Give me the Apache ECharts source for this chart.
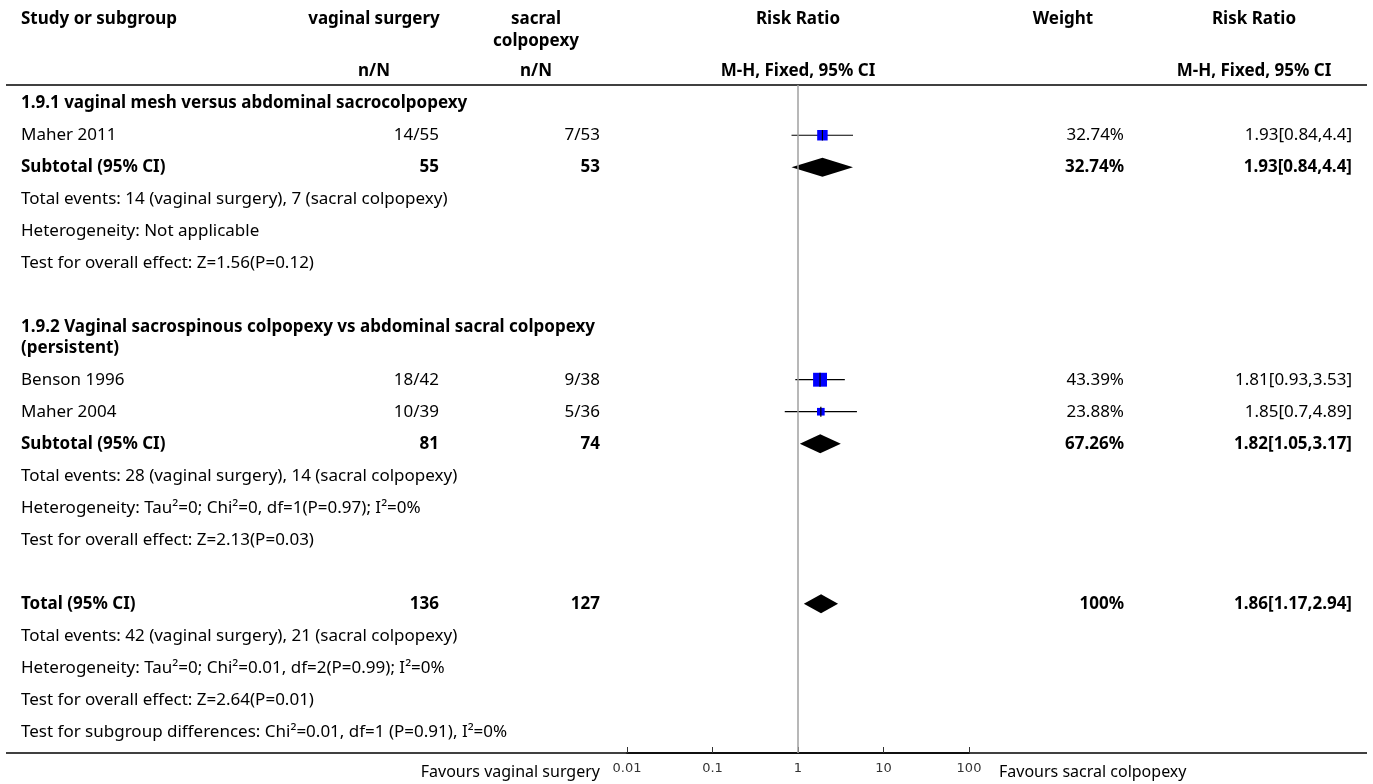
<!DOCTYPE html>
<html><head><meta charset="utf-8">
<script src="https://cdn.jsdelivr.net/npm/echarts@6/dist/echarts.min.js"></script>
<style>html,body{margin:0;padding:0;background:#fff}#c{width:1373px;height:784px}</style>
</head><body><div id="c"></div>
<script>
// ---------------- DATA ----------------
const subgroupTitles = [
  ['1.9.1 vaginal mesh versus abdominal sacrocolpopexy'],
  ['1.9.2 Vaginal sacrospinous colpopexy vs abdominal sacral colpopexy', '(persistent)']
];
const studyNames = ['Maher 2011', 'Benson 1996', 'Maher 2004'];
const studyGroup = [0, 1, 1];
const vagEvents = [14, 18, 10];
const vagTotals = [55, 42, 39];
const sacEvents = [7, 9, 5];
const sacTotals = [53, 38, 36];
const studyWeights = [32.74, 43.39, 23.88];
const studyRR = [1.93, 1.81, 1.85];
const studyLow = [0.84, 0.93, 0.7];
const studyHigh = [4.4, 3.53, 4.89];
const subtotalVagN = [55, 81];
const subtotalSacN = [53, 74];
const subtotalWeights = [32.74, 67.26];
const subtotalRR = [1.93, 1.82];
const subtotalLow = [0.84, 1.05];
const subtotalHigh = [4.4, 3.17];
const subgroupNotes = [
  ['Total events: 14 (vaginal surgery), 7 (sacral colpopexy)', 'Heterogeneity: Not applicable', 'Test for overall effect: Z=1.56(P=0.12)'],
  ['Total events: 28 (vaginal surgery), 14 (sacral colpopexy)', 'Heterogeneity: Tau\u00b2=0; Chi\u00b2=0, df=1(P=0.97); I\u00b2=0%', 'Test for overall effect: Z=2.13(P=0.03)']
];
const totalVagN = [136];
const totalSacN = [127];
const totalWeight = [100];
const totalRR = [1.86];
const totalLow = [1.17];
const totalHigh = [2.94];
const totalNotes = [
  'Total events: 42 (vaginal surgery), 21 (sacral colpopexy)',
  'Heterogeneity: Tau\u00b2=0; Chi\u00b2=0.01, df=2(P=0.99); I\u00b2=0%',
  'Test for overall effect: Z=2.64(P=0.01)',
  'Test for subgroup differences: Chi\u00b2=0.01, df=1 (P=0.91), I\u00b2=0%'
];
const xTicks = [0.01, 0.1, 1, 10, 100];
const headerTexts = ['Study or subgroup', 'vaginal surgery', 'sacral', 'colpopexy', 'n/N', 'Risk Ratio', 'M-H, Fixed, 95% CI', 'Weight'];
const favoursLabels = ['Favours vaginal surgery', 'Favours sacral colpopexy'];

// ---------------- LAYOUT ----------------
const FONT = 'Noto Sans';
const FS = 17;
const TOP = 85, AXIS_Y = 753, UNIT = 32;
const COL = { label: 21, vag: 439, sac: 600, weight: 1124, rr: 1352 };
const HDR = { vag: 374, sac: 536, plot: 798, weight: 1063, rr: 1254 };
const EXTRA_LINE = 0.64;
const CENTER = 0.57;

const rows = [];
let slot = 0;
const ciText = (r, l, h) => r + '[' + l + ',' + h + ']';
subgroupTitles.forEach((title, g) => {
  rows.push({ kind: 'title', slot: slot, lines: title });
  slot += 1 + (title.length - 1) * EXTRA_LINE;
  studyNames.forEach((nm, i) => {
    if (studyGroup[i] !== g) return;
    rows.push({ kind: 'study', slot: slot, idx: i, label: nm,
      vag: vagEvents[i] + '/' + vagTotals[i], sac: sacEvents[i] + '/' + sacTotals[i],
      weight: studyWeights[i] + '%', rr: ciText(studyRR[i], studyLow[i], studyHigh[i]) });
    slot += 1;
  });
  rows.push({ kind: 'subtotal', slot: slot, idx: g, label: 'Subtotal (95% CI)', bold: true,
    vag: String(subtotalVagN[g]), sac: String(subtotalSacN[g]),
    weight: subtotalWeights[g] + '%', rr: ciText(subtotalRR[g], subtotalLow[g], subtotalHigh[g]) });
  slot += 1;
  subgroupNotes[g].forEach(n => { rows.push({ kind: 'note', slot: slot, label: n }); slot += 1; });
  slot += 1;
});
rows.push({ kind: 'total', slot: slot, label: 'Total (95% CI)', bold: true,
  vag: String(totalVagN[0]), sac: String(totalSacN[0]),
  weight: totalWeight[0] + '%', rr: ciText(totalRR[0], totalLow[0], totalHigh[0]) });
slot += 1;
totalNotes.forEach(n => { rows.push({ kind: 'note', slot: slot, label: n }); slot += 1; });
const Y_MAX = (AXIS_Y - TOP) / UNIT;

const studyData = studyNames.map((nm, i) => {
  const r = rows.find(rr => rr.kind === 'study' && rr.idx === i);
  return [studyRR[i], studyLow[i], studyHigh[i], r.slot + CENTER, studyWeights[i]];
});
const diamondData = [];
rows.forEach(r => {
  if (r.kind === 'subtotal') diamondData.push([subtotalRR[r.idx], subtotalLow[r.idx], subtotalHigh[r.idx], r.slot + CENTER]);
  if (r.kind === 'total') diamondData.push([totalRR[0], totalLow[0], totalHigh[0], r.slot + CENTER]);
});
const textData = rows.map((r, i) => [1, r.slot + CENTER, i]);

function txt(x, y, s, align, bold, size) {
  return { type: 'text', x: x, y: y, silent: true,
    style: { text: s, fill: '#000', align: align, verticalAlign: 'middle',
      font: (bold ? 'bold ' : '') + (size || FS) + 'px "' + FONT + '"' } };
}

const chart = echarts.init(document.getElementById('c'), null, { renderer: 'canvas' });
const gridLeft = 627, gridRight = 969;

chart.setOption({
  animation: false,
  backgroundColor: '#fff',
  grid: { left: gridLeft, width: gridRight - gridLeft, top: TOP, height: AXIS_Y - TOP },
  xAxis: {
    type: 'log', logBase: 10, min: 0.01, max: 100, splitNumber: 4, position: 'bottom',
    axisLine: { show: true, onZero: false, lineStyle: { color: '#000', width: 1.6 } },
    axisTick: { show: true, inside: true, length: 6, lineStyle: { color: '#333', width: 1 } },
    axisLabel: { show: true, margin: 9, color: '#333', fontSize: 13, fontFamily: 'DejaVu Sans',
      formatter: v => { const t = xTicks.find(t => Math.abs(Math.log10(t) - Math.log10(v)) < 1e-6); return t === undefined ? '' : String(t); } },
    splitLine: { show: false }
  },
  yAxis: { type: 'value', min: 0, max: Y_MAX, inverse: true, show: false },
  graphic: [
    { type: 'line', shape: { x1: 6, y1: TOP, x2: 1367, y2: TOP }, style: { stroke: '#000', lineWidth: 1.6 }, silent: true },
    { type: 'line', shape: { x1: 6, y1: AXIS_Y, x2: 1367, y2: AXIS_Y }, style: { stroke: '#000', lineWidth: 1.6 }, silent: true },
    txt(COL.label, 19, headerTexts[0], 'left', true),
    txt(HDR.vag, 19, headerTexts[1], 'center', true),
    txt(HDR.vag, 71, headerTexts[4], 'center', true),
    txt(HDR.sac, 19, headerTexts[2], 'center', true),
    txt(HDR.sac, 41, headerTexts[3], 'center', true),
    txt(HDR.sac, 71, headerTexts[4], 'center', true),
    txt(HDR.plot, 19, headerTexts[5], 'center', true),
    txt(HDR.plot, 71, headerTexts[6], 'center', true),
    txt(HDR.weight, 19, headerTexts[7], 'center', true),
    txt(HDR.rr, 19, headerTexts[5], 'center', true),
    txt(HDR.rr, 71, headerTexts[6], 'center', true),
    txt(600, 772, favoursLabels[0], 'right', false, 16),
    txt(999, 772, favoursLabels[1], 'left', false, 16)
  ],
  series: [
    { type: 'line', data: [], z: 1, silent: true,
      markLine: { silent: true, symbol: 'none', label: { show: false },
        lineStyle: { color: '#a0a0a0', width: 1.5, type: 'solid' }, data: [{ xAxis: 1 }] } },
    { type: 'custom', z: 3, data: studyData, encode: { x: [0, 1, 2], y: 3 }, clip: false,
      renderItem: (params, api) => {
        const y = api.value(3);
        const c = api.coord([api.value(0), y]);
        const lo = api.coord([api.value(1), y]);
        const hi = api.coord([api.value(2), y]);
        const s = api.value(4) * 0.32;
        const t = Math.max(s, 10);
        return { type: 'group', children: [
          { type: 'line', shape: { x1: lo[0], y1: c[1], x2: hi[0], y2: c[1] }, style: { stroke: '#000', lineWidth: 1.2 } },
          { type: 'rect', shape: { x: c[0] - s / 2, y: c[1] - s / 2, width: s, height: s }, style: { fill: '#0000ff' } },
          { type: 'line', shape: { x1: c[0], y1: c[1] - t / 2, x2: c[0], y2: c[1] + t / 2 }, style: { stroke: '#000', lineWidth: 1.2 } }
        ] };
      } },
    { type: 'custom', z: 3, data: diamondData, encode: { x: [0, 1, 2], y: 3 }, clip: false,
      renderItem: (params, api) => {
        const y = api.value(3);
        const c = api.coord([api.value(0), y]);
        const lo = api.coord([api.value(1), y]);
        const hi = api.coord([api.value(2), y]);
        const h = 19;
        return { type: 'polygon', shape: { points: [[lo[0], c[1]], [c[0], c[1] - h / 2], [hi[0], c[1]], [c[0], c[1] + h / 2]] },
          style: { fill: '#000' } };
      } },
    { type: 'custom', z: 4, data: textData, encode: { x: 0, y: 1 }, clip: false, silent: true,
      renderItem: (params, api) => {
        const r = rows[api.value(2)];
        const y = api.coord([1, api.value(1)])[1];
        const ch = [];
        if (r.kind === 'title') {
          r.lines.forEach((ln, k) => {
            const yy = api.coord([1, api.value(1) + k * EXTRA_LINE])[1];
            ch.push(txt(COL.label, yy, ln, 'left', true));
          });
        } else {
          ch.push(txt(COL.label, y, r.label, 'left', !!r.bold));
          if (r.vag !== undefined) {
            ch.push(txt(COL.vag, y, r.vag, 'right', !!r.bold));
            ch.push(txt(COL.sac, y, r.sac, 'right', !!r.bold));
            ch.push(txt(COL.weight, y, r.weight, 'right', !!r.bold));
            ch.push(txt(COL.rr, y, r.rr, 'right', !!r.bold));
          }
        }
        return { type: 'group', children: ch };
      } }
  ]
});
</script>
</body></html>
